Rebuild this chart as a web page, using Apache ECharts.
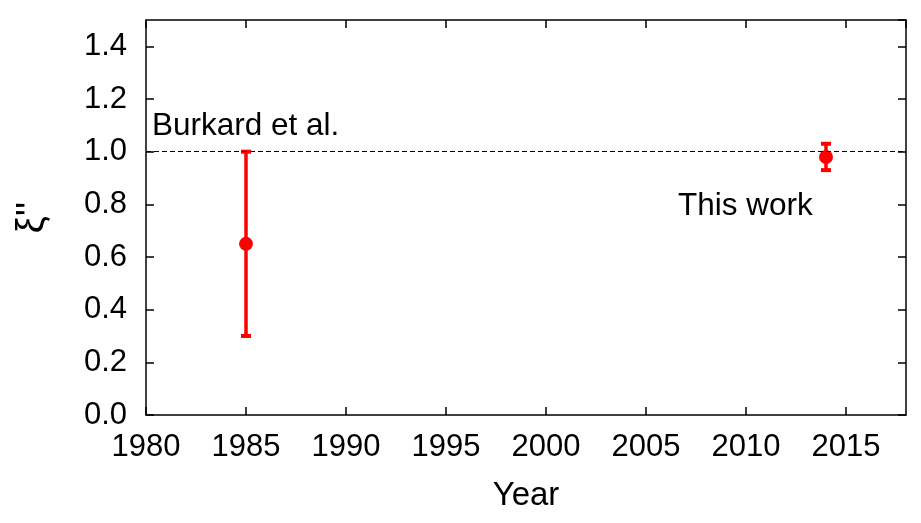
<!DOCTYPE html>
<html>
<head>
<meta charset="utf-8">
<script src="https://cdn.jsdelivr.net/npm/echarts@6/dist/echarts.min.js"></script>
<style>
  html, body { margin: 0; padding: 0; background: #fff; }
  #chart { width: 921px; height: 523px; }
</style>
</head>
<body>
<div id="chart"></div>
<script>
// measurements: year, value, lower end, upper end of error bar
const years = [1985, 2014]
const values = [0.65, 0.98]
const lows = [0.30, 0.93]
const highs = [1.00, 1.03]
const labels = ['Burkard et al.', 'This work']
const refLine = 1.0

const RED = '#ff0000'
const FONT = 'Liberation Sans, Arial, sans-serif'

const chart = echarts.init(document.getElementById('chart'))

const points = years.map((y, i) => [y, values[i], lows[i], highs[i]])

const tickStyle = { show: true, inside: true, length: 8, lineStyle: { color: '#000', width: 1.5 } }
const lineStyle = { show: true, onZero: false, lineStyle: { color: '#000', width: 1.5 } }

chart.setOption({
  animation: false,
  grid: { left: 146, right: 15, top: 20, bottom: 108, outerBoundsMode: 'none' },
  xAxis: [
    {
      type: 'value', min: 1980, max: 2018, interval: 5,
      name: 'Year', nameLocation: 'middle', nameGap: 64,
      nameTextStyle: { fontFamily: FONT, fontSize: 33, color: '#000' },
      axisLine: lineStyle, axisTick: tickStyle, splitLine: { show: false },
      axisLabel: { fontFamily: FONT, fontSize: 31, color: '#000', margin: 17, formatter: (v) => String(v) },
    },
    {
      type: 'value', position: 'top', min: 1980, max: 2018, interval: 5,
      axisLine: lineStyle, axisTick: tickStyle, splitLine: { show: false },
      axisLabel: { show: false },
    },
  ],
  yAxis: [
    {
      type: 'value', min: 0, max: 1.5, interval: 0.2,
      name: "ξ''", nameLocation: 'middle', nameGap: 94, nameRotate: 90,
      nameTextStyle: { fontFamily: FONT, fontSize: 38, color: '#000' },
      axisLine: lineStyle, axisTick: tickStyle, splitLine: { show: false },
      axisLabel: {
        fontFamily: FONT, fontSize: 31, color: '#000', margin: 19,
        formatter: (v) => v.toFixed(1),
      },
    },
    {
      type: 'value', position: 'right', min: 0, max: 1.5, interval: 0.2,
      axisLine: lineStyle, axisTick: tickStyle, splitLine: { show: false },
      axisLabel: { show: false },
    },
  ],
  series: [
    {
      type: 'custom',
      data: points,
      renderItem: (params, api) => {
        const x = api.value(0)
        const top = api.coord([x, api.value(3)])
        const bot = api.coord([x, api.value(2)])
        const cw = 5
        const style = { stroke: RED, lineWidth: 3.5 }
        return {
          type: 'group',
          children: [
            { type: 'line', shape: { x1: top[0], y1: top[1], x2: bot[0], y2: bot[1] }, style },
            { type: 'line', shape: { x1: top[0] - cw, y1: top[1], x2: top[0] + cw, y2: top[1] }, style: { stroke: RED, lineWidth: 4 } },
            { type: 'line', shape: { x1: bot[0] - cw, y1: bot[1], x2: bot[0] + cw, y2: bot[1] }, style: { stroke: RED, lineWidth: 4 } },
          ],
        }
      },
      z: 3,
    },
    {
      type: 'scatter',
      data: points.map((p) => [p[0], p[1]]),
      symbol: 'circle',
      symbolSize: 14,
      itemStyle: { color: RED, opacity: 1 },
      z: 4,
      markLine: {
        silent: true,
        symbol: 'none',
        label: { show: false },
        lineStyle: { color: '#000', type: [5, 3], width: 1 },
        data: [{ yAxis: refLine }],
      },
    },
  ],
  graphic: [
    { type: 'text', left: 152, top: 110, style: { text: labels[0], font: '31.5px ' + FONT, fill: '#000' } },
    { type: 'text', left: 678, top: 190, style: { text: labels[1], font: '31.5px ' + FONT, fill: '#000' } },
  ],
})
</script>
</body>
</html>
